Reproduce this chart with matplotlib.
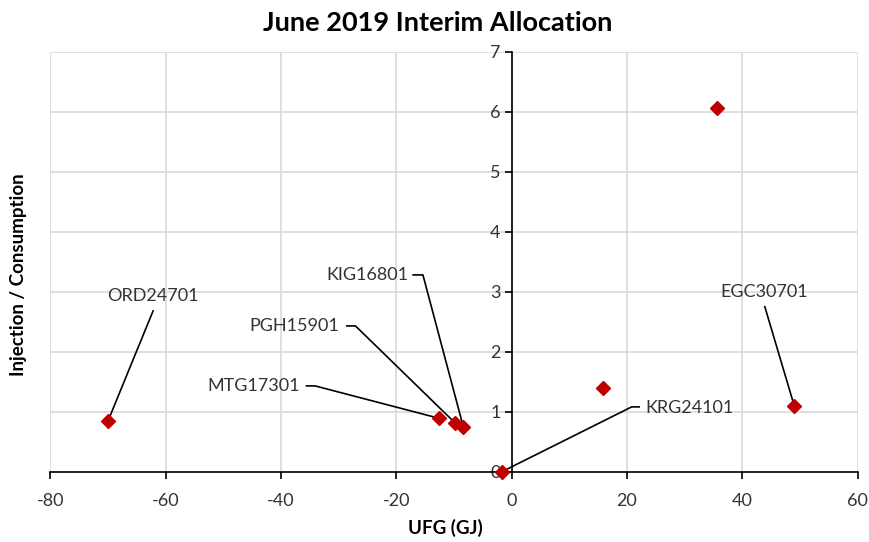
import matplotlib
matplotlib.use("Agg")
import matplotlib.pyplot as plt

plt.rcParams['font.family'] = ['Lato', 'DejaVu Sans']

# Data
ufg = [-70.0, -12.6, -9.9, -8.4, -1.7, 15.8, 35.6, 49.0]
ratio = [0.85, 0.89, 0.82, 0.75, 0.0, 1.39, 6.06, 1.10]
names = ["ORD24701", "MTG17301", "PGH15901", "KIG16801", "KRG24101", "", "", "EGC30701"]

# label placement (data coords): text anchor x, y, alignment, leader start points
label_x = [-62.2, -36.7, -29.9, -18.0, 23.2, None, None, 43.8]
label_y = [2.93, 1.43, 2.43, 3.28, 1.07, None, None, 2.99]
label_ha = ["center", "right", "right", "right", "left", None, None, "center"]
leader_x = [[-62.2], [-35.6, -34.1], [-28.6, -27.1], [-17.1, -15.4], [22.1, 20.8], None, None, [43.9]]
leader_y = [[2.68], [1.43, 1.43], [2.43, 2.43], [3.28, 3.28], [1.08, 1.08], None, None, [2.75]]

xticks = [-80, -60, -40, -20, 0, 20, 40, 60]
yticks = [0, 1, 2, 3, 4, 5, 6, 7]

fig = plt.figure(figsize=(8.7, 5.42), dpi=100)
ax = fig.add_axes([0.058, 0.1297, 0.9278, 0.7749])
ax.set_xlim(-80, 60)
ax.set_ylim(0, 7)
ax.set_xticks(xticks)
ax.set_yticks(yticks)
ax.grid(True, color='#d9d9d9', linewidth=1.2)
ax.set_axisbelow(True)

for s in ['top', 'right']:
    ax.spines[s].set_visible(False)
ax.spines['left'].set_position(('data', 0))
ax.spines['left'].set_linewidth(1.2)
ax.spines['bottom'].set_linewidth(1.2)
ax.tick_params(axis='x', direction='out', length=5, width=1.2, pad=10, labelsize=13, colors='black', labelcolor='#333333')
ax.tick_params(axis='y', direction='out', length=5, width=1.2, pad=3, labelsize=13, colors='black', labelcolor='#333333')
ax.set_xticklabels([str(t) if t >= 0 else "-" + str(-t) for t in xticks])

# leader lines
for i, n in enumerate(names):
    if n:
        ax.plot(leader_x[i] + [ufg[i]], leader_y[i] + [ratio[i]], color='black', lw=1.2, zorder=2, clip_on=False)
        ax.text(label_x[i], label_y[i], n, ha=label_ha[i], va='center', fontsize=13, color='#333333', zorder=4)

ax.plot(ufg, ratio, linestyle='none', marker='D', markersize=7, color='#c00000', zorder=5, clip_on=False)

fig.text(0.503, 0.958, "June 2019 Interim Allocation", ha='center', va='center', fontsize=19.5, fontweight='bold')
fig.text(0.512, 0.026, "UFG (GJ)", ha='center', va='center', fontsize=13.5, fontweight='bold')
fig.text(0.021, 0.493, "Injection / Consumption", ha='center', va='center', rotation=90, fontsize=13.5, fontweight='bold')

fig.savefig("out.png", dpi=100)
